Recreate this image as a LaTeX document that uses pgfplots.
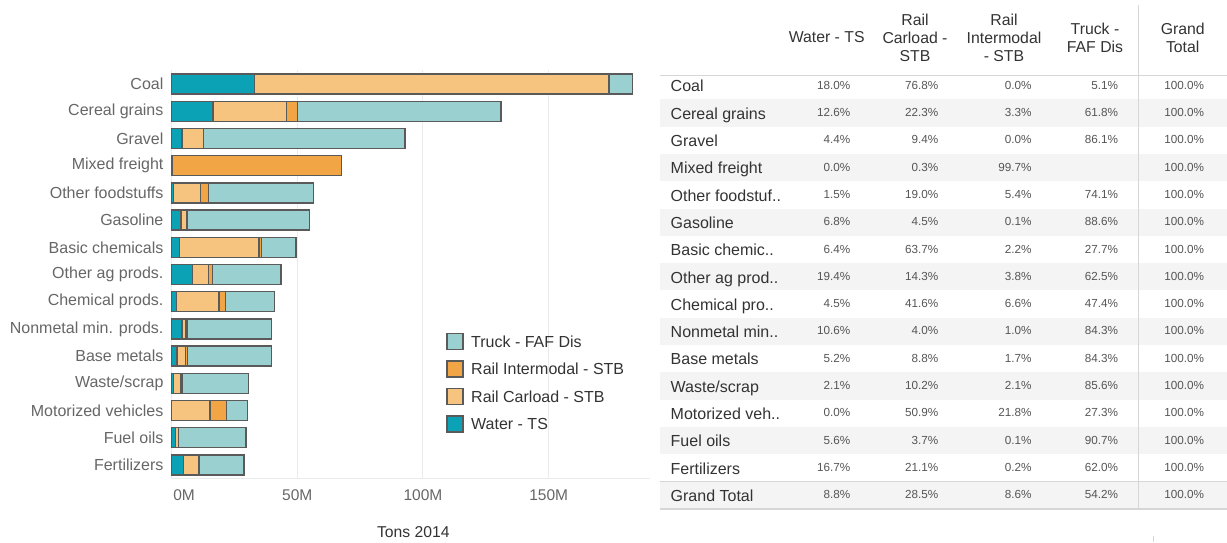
\documentclass[border=0pt]{standalone}
\usepackage{fontspec}
\setmainfont{Liberation Sans}
\usepackage{pgfplots}
\pgfplotsset{compat=1.18}
\usepackage{pgfplotstable}
\definecolor{water}{HTML}{0AA2B4}
\definecolor{carload}{HTML}{F7C480}
\definecolor{inter}{HTML}{F1A545}
\definecolor{truck}{HTML}{9BD0D0}
\definecolor{edge}{HTML}{5A5A5A}
\definecolor{gridc}{HTML}{EBEBEB}
\definecolor{labc}{HTML}{666666}
\definecolor{txt}{HTML}{333333}
\definecolor{pct}{HTML}{555555}
\definecolor{band}{HTML}{F4F4F4}
\definecolor{rule}{HTML}{D6D6D6}
\newcommand{\fs}[1]{\fontsize{#1}{#1}\selectfont}
\newcommand{\fsb}[2]{\fontsize{#1}{#2}\selectfont}

\pgfplotstableread{
y water carload inter truck
14 33.05 141.0 0 9.36
13 16.5 29.2 4.3 81.0
12 4.1 8.7 0 80.1
11 0 0.2 67.5 0
10 0.85 10.7 3.05 41.8
9 3.7 2.5 0.05 48.6
8 3.2 31.5 1.1 13.7
7 8.4 6.2 1.65 27.2
6 1.85 17.0 2.7 19.4
5 4.2 1.6 0.4 33.6
4 2.1 3.5 0.7 33.5
3 0.65 3.1 0.65 26.1
2 0 15.3 6.6 8.2
1 1.65 1.1 0.03 26.8
0 4.8 6.1 0.06 17.9
}\tonsdata

\begin{document}
\begin{tikzpicture}
\useasboundingbox (0,0) rectangle (1227pt,-542pt);
% ---- table ----
\foreach \i in {1,3,...,15} {
  \fill[band] (660pt,{-(72+27.3*\i)*1pt}) rectangle (1227pt,{-(72+27.3*(\i+1))*1pt});
}
\draw[rule, line width=1pt] (660pt,-75pt) -- (1227pt,-75pt);
\draw[rule, line width=1pt] (660pt,-481.5pt) -- (1227pt,-481.5pt);
\draw[rule, line width=2pt] (660pt,-509pt) -- (1227pt,-509pt);
\draw[rule, line width=1pt] (1138.3pt,-5pt) -- (1138.3pt,-509pt);
\draw[rule, line width=0.8pt] (1153pt,-536pt) -- (1153pt,-542pt);

\begin{scope}[every node/.style={align=center, text=txt, font=\fsb{15.8}{18}, inner sep=0pt}]
\node at (826.7pt,-37.5pt) {Water - TS};
\node at (915pt,-37.5pt) {Rail\\Carload -\\STB};
\node at (1004pt,-37.5pt) {Rail\\Intermodal\\- STB};
\node at (1095pt,-37.5pt) {Truck -\\FAF Dis};
\node at (1182.7pt,-37.5pt) {Grand\\Total};
\end{scope}

\foreach \i/\lab/\va/\vb/\vc/\vd in {
 0/Coal/18.0\%/76.8\%/0.0\%/5.1\%,
 1/Cereal grains/12.6\%/22.3\%/3.3\%/61.8\%,
 2/Gravel/4.4\%/9.4\%/0.0\%/86.1\%,
 3/Mixed freight/0.0\%/0.3\%/99.7\%/{},
 4/Other foodstuf../1.5\%/19.0\%/5.4\%/74.1\%,
 5/Gasoline/6.8\%/4.5\%/0.1\%/88.6\%,
 6/Basic chemic../6.4\%/63.7\%/2.2\%/27.7\%,
 7/Other ag prod../19.4\%/14.3\%/3.8\%/62.5\%,
 8/Chemical pro../4.5\%/41.6\%/6.6\%/47.4\%,
 9/Nonmetal min../10.6\%/4.0\%/1.0\%/84.3\%,
 10/Base metals/5.2\%/8.8\%/1.7\%/84.3\%,
 11/Waste\slash scrap/2.1\%/10.2\%/2.1\%/85.6\%,
 12/Motorized veh../0.0\%/50.9\%/21.8\%/27.3\%,
 13/Fuel oils/5.6\%/3.7\%/0.1\%/90.7\%,
 14/Fertilizers/16.7\%/21.1\%/0.2\%/62.0\%,
 15/Grand Total/8.8\%/28.5\%/8.6\%/54.2\%} {
  \node[anchor=base west, inner sep=0pt, text=txt, font=\fs{16}] at (670.5pt,{-(91.9+27.3*\i)*1pt}) {\lab};
  \node[anchor=base east, inner sep=0pt, text=pct, font=\fs{11.7}] at (850.5pt,{-(89.2+27.3*\i)*1pt}) {\va};
  \node[anchor=base east, inner sep=0pt, text=pct, font=\fs{11.7}] at (938.5pt,{-(89.2+27.3*\i)*1pt}) {\vb};
  \node[anchor=base east, inner sep=0pt, text=pct, font=\fs{11.7}] at (1031.7pt,{-(89.2+27.3*\i)*1pt}) {\vc};
  \node[anchor=base east, inner sep=0pt, text=pct, font=\fs{11.7}] at (1118.3pt,{-(89.2+27.3*\i)*1pt}) {\vd};
  \node[anchor=base east, inner sep=0pt, text=pct, font=\fs{11.7}] at (1204.3pt,{-(89.2+27.3*\i)*1pt}) {100.0\%};
}

% ---- bar chart ----
\begin{axis}[
 at={(171.6pt,-478.6pt)}, anchor=south west,
 scale only axis, width=478.4pt, height=408.2pt,
 xbar stacked, bar width=20pt,
 xmin=0, xmax=190.3, ymin=-0.5, ymax=14.5,
 ytick={0,...,14},
 yticklabels={Fertilizers, Fuel oils, Motorized vehicles, Waste/scrap, Base metals, Nonmetal min. prods., Chemical prods., Other ag prods., Basic chemicals, Gasoline, Other foodstuffs, Mixed freight, Gravel, Cereal grains, Coal},
 xtick={0,50,100,150},
 xticklabels={{\makebox[0pt][l]{\hspace{1.7pt}0M}},50M,100M,150M},
 major tick length=0pt, tick style={draw=none},
 axis lines*=left,
 axis line style={draw=gridc, line width=1pt},
 xmajorgrids, grid style={draw=gridc, line width=1pt},
 yticklabel style={font=\fs{16}, text=labc, inner sep=0pt, xshift=-8pt, anchor=east},
 xticklabel style={font=\fs{15.5}, text=labc, inner sep=0pt, anchor=north, yshift=-11pt},
 xlabel={Tons 2014},
 xlabel style={font=\fs{15.7}, text=txt, at={(axis description cs:0.5,0)}, anchor=base, yshift=-58.7pt, xshift=2.5pt, inner sep=0pt},
 every axis plot/.append style={draw=edge, line width=1.4pt},
 legend style={at={(axis description cs:0.5738,0.3574)}, anchor=north west, draw=none, fill=none,
   inner xsep=0pt, inner ysep=0pt, row sep=10pt, font=\fs{16}, text=txt,
   nodes={inner sep=0pt, text depth=0pt},
   /tikz/every odd column/.append style={column sep=7.5pt}},
 legend cell align=left,
 legend image code/.code={\draw[#1] (0pt,-8pt) rectangle (16pt,8pt);},
 reverse legend,
 clip=false,
]
\addplot[fill=water] table[x=water,y=y]{\tonsdata};
\addlegendentry{Water - TS}
\addplot[fill=carload] table[x=carload,y=y]{\tonsdata};
\addlegendentry{Rail Carload - STB}
\addplot[fill=inter] table[x=inter,y=y]{\tonsdata};
\addlegendentry{Rail Intermodal - STB}
\addplot[fill=truck] table[x=truck,y=y]{\tonsdata};
\addlegendentry{Truck - FAF Dis}
\end{axis}
\end{tikzpicture}
\end{document}
